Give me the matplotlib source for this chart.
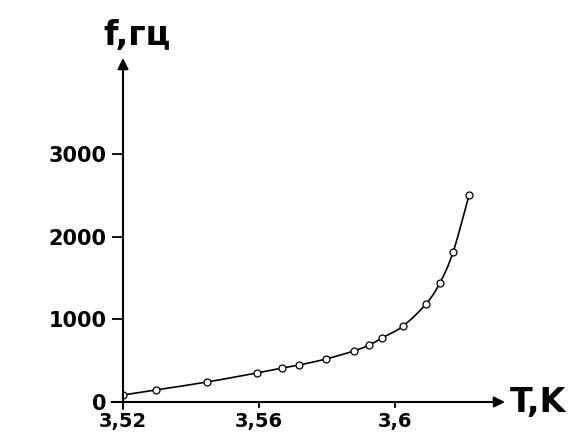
import matplotlib
matplotlib.use("Agg")
import matplotlib.pyplot as plt
import numpy as np

# data
T_values = [3.520, 3.5297, 3.5447, 3.5594, 3.5668, 3.5718, 3.5797, 3.5879,
            3.5924, 3.5962, 3.6024, 3.6091, 3.6132, 3.6171, 3.6218]
f_values = [85, 145, 242, 351, 411, 447, 520, 617,
            689, 774, 919, 1185, 1439, 1814, 2503]
x_ticks = [3.52, 3.56, 3.60]
x_tick_labels = ["3,52", "3,56", "3,6"]
y_ticks = [0, 1000, 2000, 3000]
y_tick_labels = ["0", "1000", "2000", "3000"]

W, H = 570, 434
fig = plt.figure(figsize=(W / 100, H / 100), dpi=100)
ax = fig.add_axes([123 / W, 1 - 402 / H, (505 - 123) / W, (402 - 58) / H])
ax.set_xlim(3.52, 3.52 + (505 - 123) / 3400)
ax.set_ylim(0, (402 - 58) / 0.0827)

for s in ax.spines.values():
    s.set_visible(False)


def smooth(xs, ys, n=20):
    # centripetal-free uniform Catmull-Rom through the data points, in display-ish units
    x = np.asarray(xs, float)
    y = np.asarray(ys, float)
    xn = (x - x.min()) / (x.max() - x.min())
    yn = (y - y.min()) / (y.max() - y.min())
    P = np.column_stack([xn, yn])
    P = np.vstack([2 * P[0] - P[1], P, 2 * P[-1] - P[-2]])
    out = []
    t = np.linspace(0, 1, n, endpoint=False)[:, None]
    for i in range(1, len(P) - 2):
        p0, p1, p2, p3 = P[i - 1], P[i], P[i + 1], P[i + 2]
        seg = 0.5 * ((2 * p1) + (-p0 + p2) * t + (2 * p0 - 5 * p1 + 4 * p2 - p3) * t ** 2
                     + (-p0 + 3 * p1 - 3 * p2 + p3) * t ** 3)
        out.append(seg)
    out.append(P[-2][None, :])
    out = np.vstack(out)
    return (out[:, 0] * (x.max() - x.min()) + x.min(),
            out[:, 1] * (y.max() - y.min()) + y.min())


sx, sy = smooth(T_values, f_values)
ax.plot(sx, sy, color="black", lw=1.2, zorder=2)
ax.plot(T_values, f_values, linestyle="none", marker="o", ms=5,
        mfc="white", mec="black", mew=0.9, zorder=3)

# axes arrows
ax.annotate("", xy=(1, 0), xytext=(-0.03, 0), xycoords="axes fraction",
            arrowprops=dict(arrowstyle="-|>", lw=1.5, color="black",
                            mutation_scale=16, shrinkA=0, shrinkB=0))
ax.annotate("", xy=(0, 1), xytext=(0, -0.02), xycoords="axes fraction",
            arrowprops=dict(arrowstyle="-|>", lw=1.5, color="black",
                            mutation_scale=16, shrinkA=0, shrinkB=0))

ax.set_xticks(x_ticks)
ax.set_xticklabels(x_tick_labels, fontsize=14, fontweight="bold")
ax.set_yticks(y_ticks)
ax.set_yticklabels(y_tick_labels, fontsize=15, fontweight="bold")
ax.tick_params(axis="x", direction="out", length=4, width=1.3, pad=3)
ax.tick_params(axis="y", direction="out", length=8, width=1.3, pad=4)

fig.text(103 / W, 1 - 45 / H, "f,гц", fontsize=24, fontweight="bold",
         ha="left", va="baseline")
fig.text(510 / W, 1 - 412 / H, "T,K", fontsize=24, fontweight="bold",
         ha="left", va="baseline")

fig.savefig("out.png", dpi=100, facecolor="white")
